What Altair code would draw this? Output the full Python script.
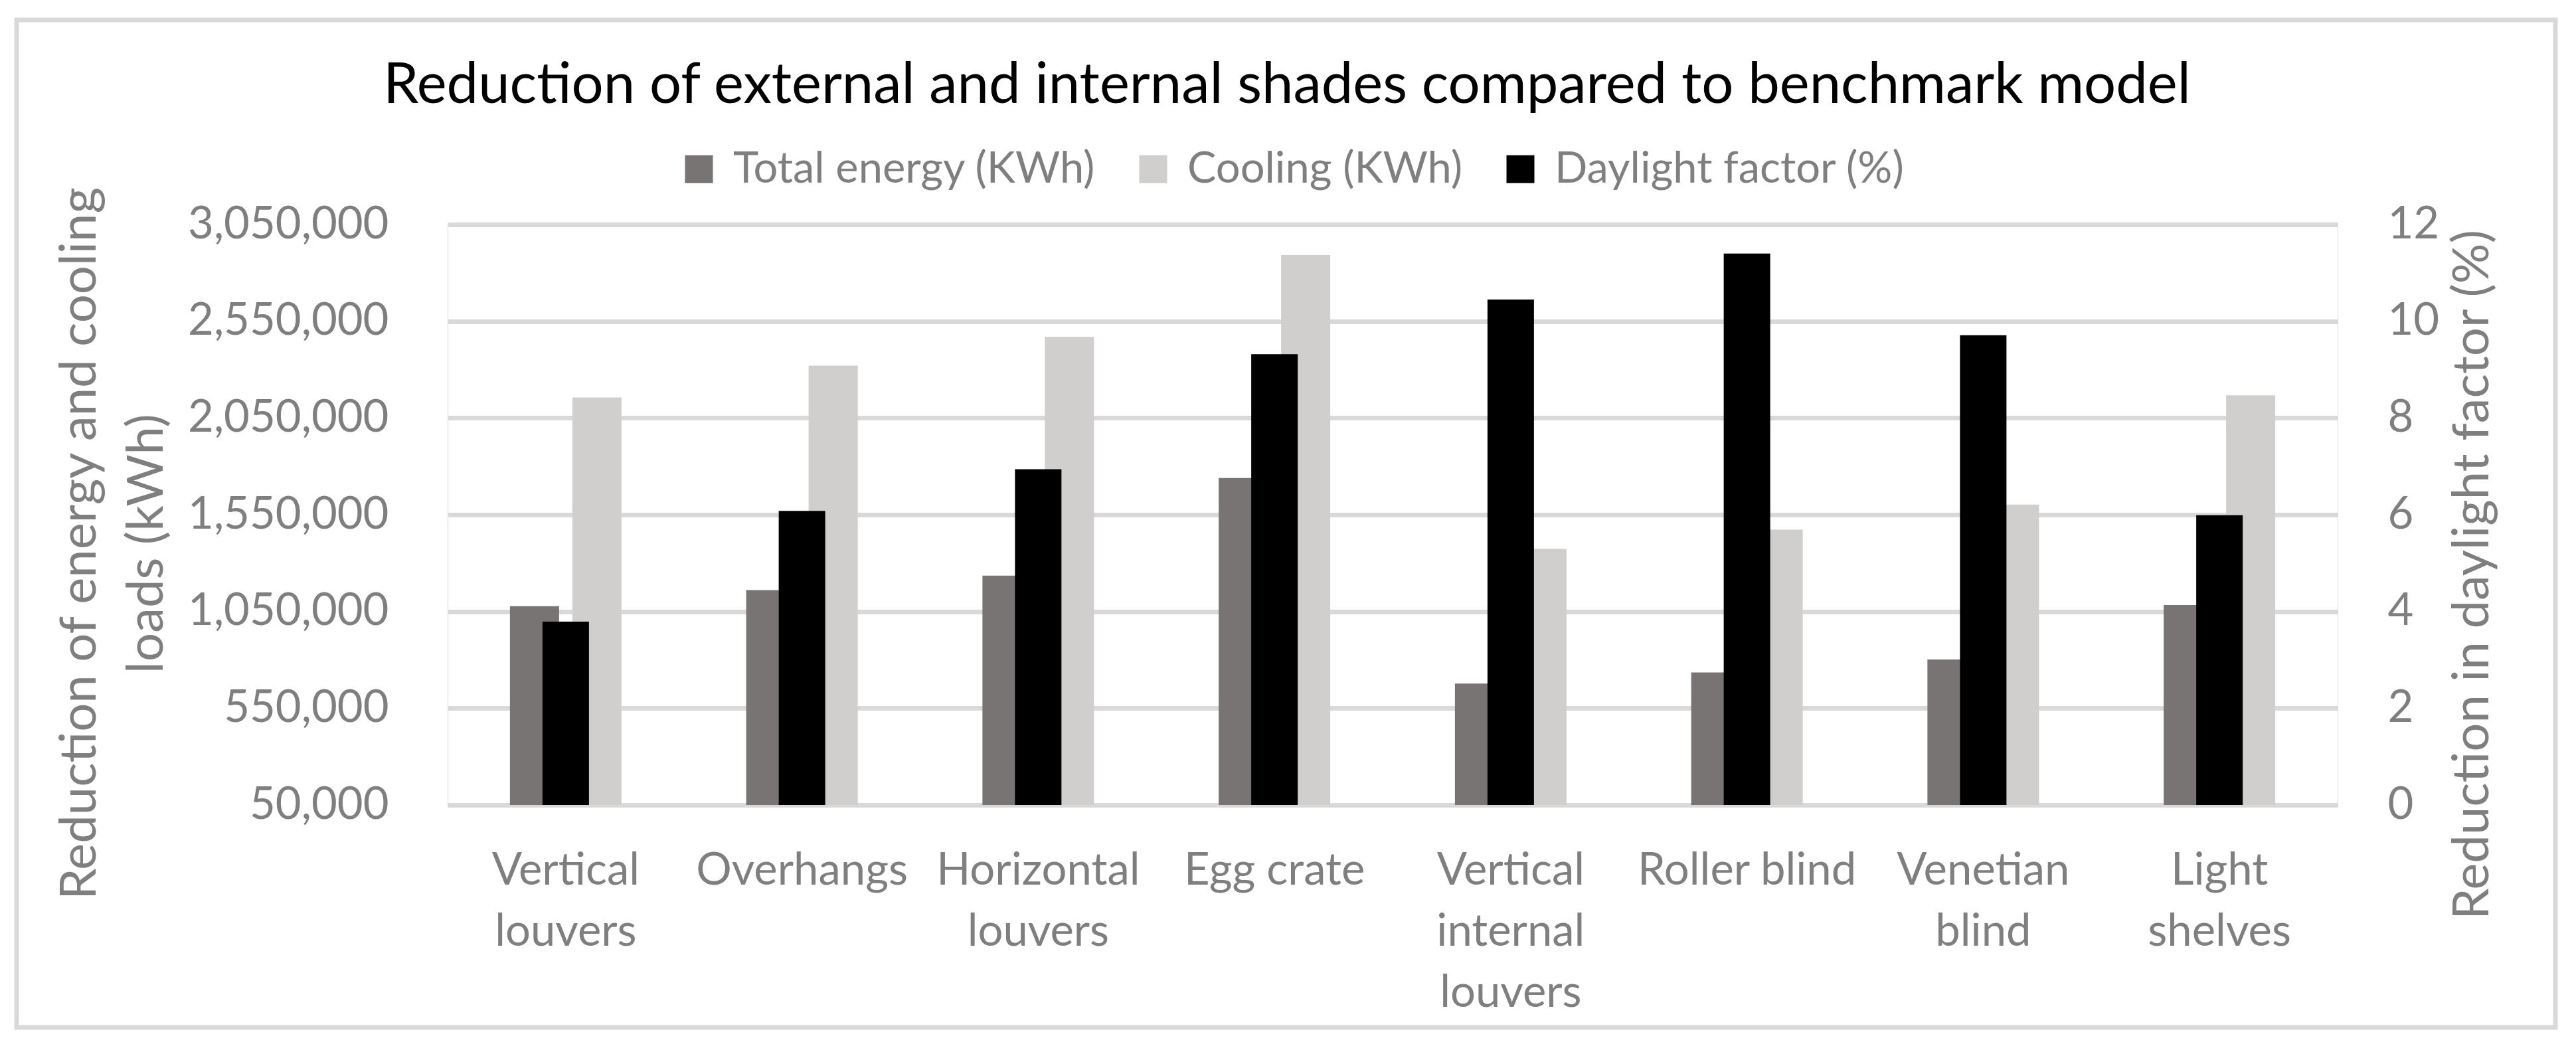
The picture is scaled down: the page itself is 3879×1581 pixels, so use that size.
import altair as alt
import pandas as pd

categories = ["Vertical louvers", "Overhangs", "Horizontal louvers", "Egg crate",
              "Vertical internal louvers", "Roller blind", "Venetian blind", "Light shelves"]
total_energy = [1077000, 1160000, 1235000, 1740000, 677000, 735000, 802000, 1083000]
cooling = [2156000, 2321000, 2469000, 2892000, 1373000, 1473000, 1602000, 2167000]
daylight = [3.79, 6.08, 6.94, 9.32, 10.45, 11.40, 9.71, 5.99]

series_names = ["Total energy (KWh)", "Cooling (KWh)", "Daylight factor (%)"]
series_colors = ["#797474", "#D0CFCD", "#000000"]
left_ticks = [50000, 550000, 1050000, 1550000, 2050000, 2550000, 3050000]
right_ticks = [0, 2, 4, 6, 8, 10, 12]
single_line = ["Overhangs", "Egg crate", "Roller blind"]

rows = []
for c, t, k, d in zip(categories, total_energy, cooling, daylight):
    rows.append({"category": c, "series": series_names[0], "value": t})
    rows.append({"category": c, "series": series_names[1], "value": k})
    rows.append({"category": c, "series": series_names[2], "value": d})
df = pd.DataFrame(rows)

FONT = "Lato"
TXT = "#7F7F7F"
GRID = "#D9D9D9"
LBL = 67

base = alt.Chart(df)

label_expr = ("indexof([" + ",".join("'%s'" % s for s in single_line) +
              "], datum.value) >= 0 ? datum.value : split(datum.value, ' ')")

x_enc = alt.X("category:N", sort=categories,
              scale=alt.Scale(paddingInner=0, paddingOuter=0),
              axis=alt.Axis(title=None, labelExpr=label_expr, labelFont=FONT,
                            labelFontSize=LBL, labelColor=TXT, labelAngle=0,
                            labelBaseline="alphabetic", labelPadding=119,
                            labelLineHeight=92, ticks=False, domain=False,
                            grid=False, labelAlign="center", labelOverlap=False,
                            labelLimit=2000))

color_enc = alt.Color("series:N",
                      scale=alt.Scale(domain=series_names, range=series_colors),
                      legend=alt.Legend(orient="none", legendX=346, legendY=-116,
                                        direction="horizontal", title=None,
                                        symbolType="square", symbolSize=1764,
                                        symbolStrokeWidth=0, labelFont=FONT,
                                        labelFontSize=65, labelColor=TXT,
                                        labelOffset=19, columnPadding=54,
                                        padding=0, labelLimit=2000))

y_left = alt.Y("value:Q",
               scale=alt.Scale(domain=[50000, 3050000], zero=False, nice=False),
               axis=alt.Axis(values=left_ticks, format=",.0f",
                             title=["Reduction of energy and cooling", "loads (kWh)"],
                             titleX=-531, titleY=480, titleAngle=-90,
                             titleBaseline="alphabetic", titleAlign="center",
                             titleLineHeight=101, titleFont=FONT, titleFontSize=76,
                             titleFontWeight="normal", titleColor=TXT,
                             labelFont=FONT, labelFontSize=LBL, labelColor=TXT,
                             labelPadding=89, ticks=False, domain=False, grid=True,
                             gridColor=GRID, gridWidth=7, labelLimit=2000))

total_layer = base.transform_filter(
    alt.datum.series == series_names[0]
).mark_bar(width=74, xOffset=-47).encode(
    x=x_enc, y=y_left, y2=alt.datum(50000), color=color_enc)

cool_layer = base.transform_filter(
    alt.datum.series == series_names[1]
).mark_bar(width=74, xOffset=47).encode(
    x=x_enc, y=y_left, y2=alt.datum(50000), color=color_enc)

day_layer = base.transform_filter(
    alt.datum.series == series_names[2]
).mark_bar(width=70).encode(
    x=x_enc,
    y=alt.Y("value:Q", scale=alt.Scale(domain=[0, 12], nice=False),
            axis=alt.Axis(orient="right", values=right_ticks,
                          title="Reduction in daylight factor (%)",
                          titleX=226, titleY=527, titleAngle=-90,
                          titleBaseline="alphabetic", titleAlign="center",
                          titleFont=FONT, titleFontSize=76, titleFontWeight="normal",
                          titleColor=TXT, labelFont=FONT, labelFontSize=LBL,
                          labelColor=TXT, labelPadding=75, ticks=False,
                          domain=False, grid=False, labelLimit=2000)),
    color=color_enc)

frame = alt.Chart(pd.DataFrame({"k": [0]})).mark_rect(
    filled=False, stroke=GRID, strokeWidth=7
).encode(x=alt.value(-649), x2=alt.value(3174), y=alt.value(-308), y2=alt.value(1209))

chart = alt.layer(
    frame,
    alt.layer(total_layer, cool_layer),
    day_layer
).resolve_scale(y="independent").properties(
    width=2846, height=874,
    title=alt.TitleParams(
        text="Reduction of external and internal shades compared to benchmark model",
        font=FONT, fontSize=85, fontWeight="normal", color="#000000",
        anchor="middle", frame="group", dx=-159, dy=213,
        baseline="alphabetic", offset=0),
    autosize=alt.AutoSizeParams(type="none"),
    padding={"left": 666, "top": 330, "right": 343, "bottom": 351},
).configure_view(stroke=None).configure(background="#FFFFFF")

chart.save("out.html", embed_options={"renderer": "svg", "actions": False})
